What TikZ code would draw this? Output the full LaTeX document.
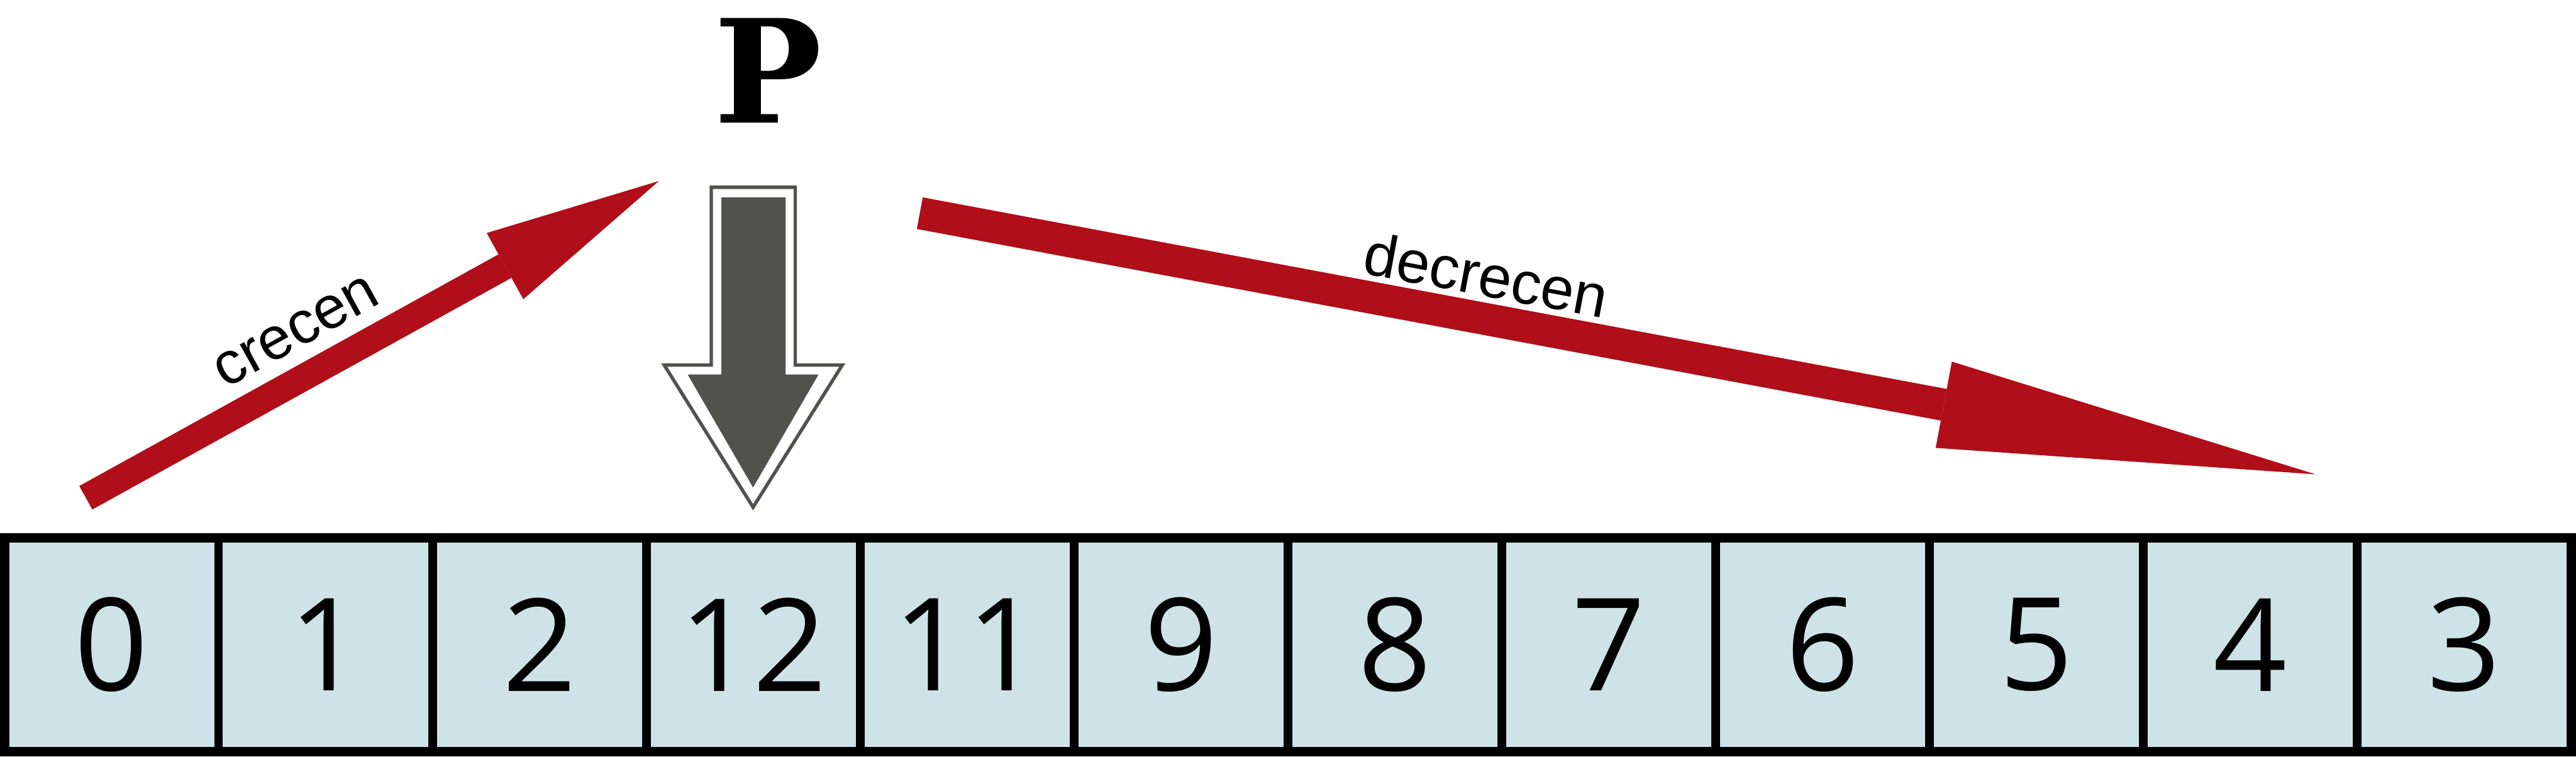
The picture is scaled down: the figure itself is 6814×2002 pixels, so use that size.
\documentclass[tikz,border=0pt]{standalone}
\usepackage{fontspec}
\usetikzlibrary{arrows.meta,calc}
\newfontfamily\digitfont{Open Sans}
\newfontfamily\labelfont{Liberation Sans}
\newfontfamily\pfont{DejaVu Serif}
\definecolor{cellblue}{RGB}{206,227,232}
\definecolor{arrowred}{RGB}{176,14,24}
\definecolor{pgray}{RGB}{82,82,76}
\begin{document}
\begin{tikzpicture}[x=0.01cm,y=0.01cm,
  cell/.style={draw,line width=0.23cm,fill=cellblue,minimum width=5.6575cm,minimum height=5.66cm,
    inner sep=0pt,outer sep=0pt,font=\digitfont\fontsize{97}{97}\selectfont},
  redarrow/.style={arrowred,line width=#1},
  lbl/.style={font=\labelfont\fontsize{45}{45}\selectfont,inner sep=0pt,anchor=base}]
\useasboundingbox (0,0) rectangle (6814,2002);
\def\w{565.75}
\foreach \v [count=\i from 0] in {0,1,2,12,11,9,8,7,6,5,4,3}
  \node[cell] (c\i) at ({12.5+\w*(\i+0.5)},296) {\v};
\draw[line width=0.25cm] (c0.north west) rectangle (c11.south east);
\coordinate (up0) at (227,685);
\coordinate (up1) at (1743,1523);
\coordinate (down0) at (2433,1438);
\coordinate (down1) at (6125,747);
\draw[redarrow=0.71cm,-{Triangle[length=4.65cm,width=2cm,line width=0pt]}] (up0) -- (up1);
\draw[redarrow=0.85cm,-{Triangle[length=10cm,width=2.32cm,line width=0pt]}] (down0) -- (down1);
\node[lbl,rotate=28.93] (uplbl) at ($(up0)!0.404!(up1)!0.73cm!90:(up1)$) {crecen};
\node[lbl,rotate=-10.6] (downlbl) at ($(down0)!0.40!(down1)!0.59cm!90:(down1)$) {decrecen};
\draw[pgray,line width=0.09cm] (1881.5,1506.5) -- (2103.5,1506.5) -- (2103.5,1036) -- (2228,1036)
  -- (1992,660) -- (1757,1036) -- (1881.5,1036) -- cycle;
\fill[pgray] (1908,1480) -- (2078,1480) -- (2078,1011) -- (2165,1011) -- (1992,712) -- (1819,1011)
  -- (1908,1011) -- cycle;
\node[font=\pfont\bfseries\fontsize{108}{108}\selectfont,inner sep=0pt] (p) at (2031,1815) {P};
\end{tikzpicture}
\end{document}
